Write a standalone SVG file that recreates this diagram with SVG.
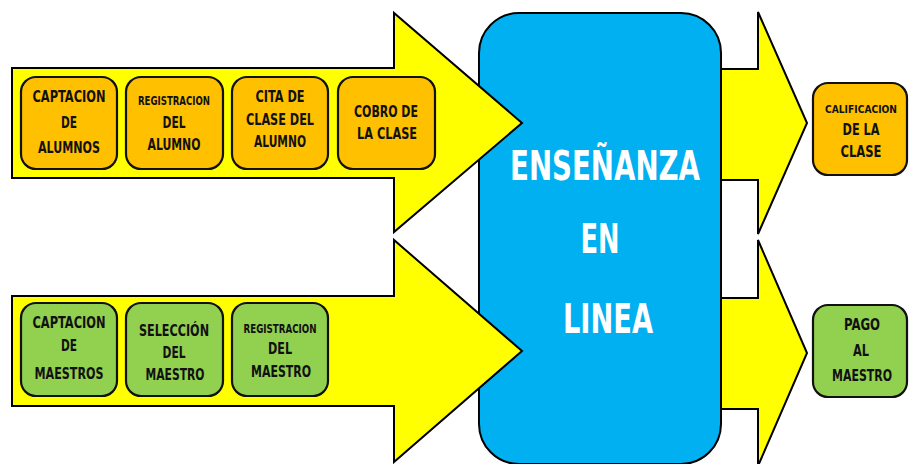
<svg xmlns="http://www.w3.org/2000/svg" width="909" height="464" viewBox="0 0 909 464">
<style>
.arrow{fill:#FFFF00;stroke:#000;stroke-width:2;stroke-linejoin:miter}
.org{fill:#FFC000;stroke:#111;stroke-width:2.2}
.grn{fill:#92D050;stroke:#111;stroke-width:2.2}
.t{font-family:"DejaVu Sans Condensed","DejaVu Sans","Liberation Sans",sans-serif;font-weight:bold;font-size:16px;fill:#111;text-anchor:middle}
.s{font-size:12.5px}
.xs{font-size:11px}
.big{font-family:"DejaVu Sans Condensed","DejaVu Sans","Liberation Sans",sans-serif;font-weight:bold;font-size:41px;fill:#fff;text-anchor:middle}
</style>
<rect width="909" height="464" fill="#fff"/>
<g id="connectors">
  <polygon class="arrow" points="700,69 758,69 758,12 807,123 758,234 758,180 700,180"/>
  <polygon class="arrow" points="700,298 758,298 758,240 807,353 758,466 758,409 700,409"/>
</g>
<g id="ensenanza">
  <rect x="479" y="13" width="242" height="451" rx="40" fill="#00B0F0" stroke="#000" stroke-width="2"/>
  <text class="big" x="605" y="180" textLength="190" lengthAdjust="spacingAndGlyphs">ENSEÑANZA</text>
  <text class="big" x="600" y="253" textLength="39" lengthAdjust="spacingAndGlyphs">EN</text>
  <text class="big" x="608" y="333" textLength="90" lengthAdjust="spacingAndGlyphs">LINEA</text>
</g>
<g id="input-arrows">
  <polygon class="arrow" points="12,68 394,68 394,13 522,123 394,232 394,178 12,178"/>
  <polygon class="arrow" points="12,296 394,296 394,240 522,351 394,462 394,406 12,406"/>
</g>
<g id="captacion-alumnos">
  <rect class="org" x="21" y="77" width="96" height="92" rx="15"/>
  <text class="t" x="69" y="102" textLength="73" lengthAdjust="spacingAndGlyphs">CAPTACION</text>
  <text class="t" x="69" y="128" textLength="16" lengthAdjust="spacingAndGlyphs">DE</text>
  <text class="t" x="69" y="153" textLength="62" lengthAdjust="spacingAndGlyphs">ALUMNOS</text>
</g>
<g id="registracion-alumno">
  <rect class="org" x="126" y="77" width="97" height="92" rx="15"/>
  <text class="t s" x="174" y="105" textLength="72" lengthAdjust="spacingAndGlyphs">REGISTRACION</text>
  <text class="t" x="174" y="128" textLength="23" lengthAdjust="spacingAndGlyphs">DEL</text>
  <text class="t" x="174" y="150" textLength="53" lengthAdjust="spacingAndGlyphs">ALUMNO</text>
</g>
<g id="cita-clase">
  <rect class="org" x="232" y="77" width="96" height="92" rx="15"/>
  <text class="t" x="280" y="102" textLength="49" lengthAdjust="spacingAndGlyphs">CITA DE</text>
  <text class="t" x="280" y="125" textLength="68" lengthAdjust="spacingAndGlyphs">CLASE DEL</text>
  <text class="t" x="280" y="147" textLength="52" lengthAdjust="spacingAndGlyphs">ALUMNO</text>
</g>
<g id="cobro-clase">
  <rect class="org" x="338" y="77" width="97" height="92" rx="15"/>
  <text class="t" x="386" y="117" textLength="64" lengthAdjust="spacingAndGlyphs">COBRO DE</text>
  <text class="t" x="387" y="139" textLength="60" lengthAdjust="spacingAndGlyphs">LA CLASE</text>
</g>
<g id="captacion-maestros">
  <rect class="grn" x="21" y="303" width="96" height="93" rx="15"/>
  <text class="t" x="69" y="328" textLength="73" lengthAdjust="spacingAndGlyphs">CAPTACION</text>
  <text class="t" x="69" y="351" textLength="16" lengthAdjust="spacingAndGlyphs">DE</text>
  <text class="t" x="69" y="379" textLength="69" lengthAdjust="spacingAndGlyphs">MAESTROS</text>
</g>
<g id="seleccion-maestro">
  <rect class="grn" x="126" y="303" width="97" height="93" rx="15"/>
  <text class="t" x="174" y="336" textLength="70" lengthAdjust="spacingAndGlyphs">SELECCIÓN</text>
  <text class="t" x="174" y="358" textLength="23" lengthAdjust="spacingAndGlyphs">DEL</text>
  <text class="t" x="175" y="380" textLength="59" lengthAdjust="spacingAndGlyphs">MAESTRO</text>
</g>
<g id="registracion-maestro">
  <rect class="grn" x="232" y="303" width="96" height="93" rx="15"/>
  <text class="t s" x="280" y="333" textLength="73" lengthAdjust="spacingAndGlyphs">REGISTRACION</text>
  <text class="t" x="280" y="354" textLength="24" lengthAdjust="spacingAndGlyphs">DEL</text>
  <text class="t" x="281" y="377" textLength="60" lengthAdjust="spacingAndGlyphs">MAESTRO</text>
</g>
<g id="calificacion-clase">
  <rect class="org" x="813" y="83" width="94" height="92" rx="15"/>
  <text class="t xs" x="861" y="113" textLength="72" lengthAdjust="spacingAndGlyphs">CALIFICACION</text>
  <text class="t" x="861" y="135" textLength="37" lengthAdjust="spacingAndGlyphs">DE LA</text>
  <text class="t" x="861" y="157" textLength="41" lengthAdjust="spacingAndGlyphs">CLASE</text>
</g>
<g id="pago-maestro">
  <rect class="grn" x="813" y="305" width="94" height="92" rx="15"/>
  <text class="t" x="862" y="330" textLength="36" lengthAdjust="spacingAndGlyphs">PAGO</text>
  <text class="t" x="861" y="356" textLength="16" lengthAdjust="spacingAndGlyphs">AL</text>
  <text class="t" x="862" y="381" textLength="60" lengthAdjust="spacingAndGlyphs">MAESTRO</text>
</g>
</svg>
